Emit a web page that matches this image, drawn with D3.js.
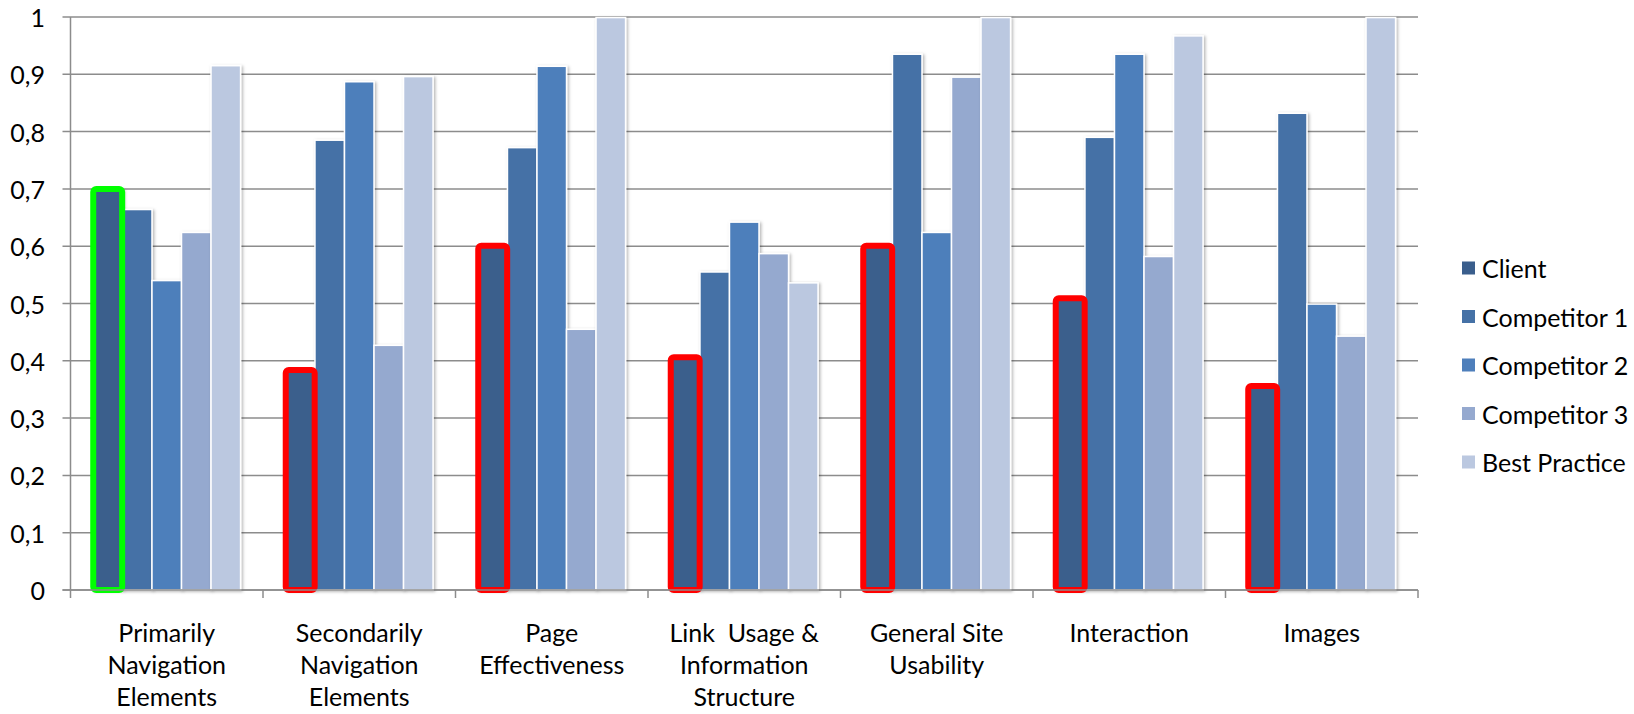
<!DOCTYPE html>
<html>
<head>
<meta charset="utf-8">
<script src="https://cdn.jsdelivr.net/npm/d3@7"></script>
<style>
  html, body { margin: 0; padding: 0; background: #ffffff; }
  svg { display: block; }
  text { font-family: Lato, "Open Sans", sans-serif; fill: #000; }
</style>
</head>
<body>
<svg id="chart" width="1634" height="714"></svg>
<script>
// Usability scores per area, client vs. competitors and best practice
const categories = [
  ["Primarily", "Navigation", "Elements"],
  ["Secondarily", "Navigation", "Elements"],
  ["Page", "Effectiveness"],
  ["Link  Usage &", "Information", "Structure"],
  ["General Site", "Usability"],
  ["Interaction"],
  ["Images"]
];
const seriesNames = ["Client", "Competitor 1", "Competitor 2", "Competitor 3", "Best Practice"];
const client      = [0.700, 0.384, 0.601, 0.406, 0.601, 0.509, 0.356];
const competitor1 = [0.664, 0.785, 0.772, 0.555, 0.935, 0.790, 0.832];
const competitor2 = [0.540, 0.887, 0.914, 0.642, 0.624, 0.935, 0.499];
const competitor3 = [0.624, 0.427, 0.455, 0.587, 0.895, 0.582, 0.443];
const bestPractice= [0.915, 0.896, 0.999, 0.536, 0.999, 0.967, 0.999];
// outline around the client bar: green = ahead, red = behind
const clientHighlight = ["#00ff00", "#ff0000", "#ff0000", "#ff0000", "#ff0000", "#ff0000", "#ff0000"];
const yTickValues = [0, 0.1, 0.2, 0.3, 0.4, 0.5, 0.6, 0.7, 0.8, 0.9, 1];
const yTickLabels = ["0", "0,1", "0,2", "0,3", "0,4", "0,5", "0,6", "0,7", "0,8", "0,9", "1"];
const seriesColors = ["#3a5e8c", "#4571a6", "#4e7fbb", "#95a9cf", "#bbc8e0"];

const seriesValues = [client, competitor1, competitor2, competitor3, bestPractice];

const svg = d3.select("#chart");
const plot = { left: 70.5, right: 1418, top: 17, bottom: 590 };
const fontSize = "25px";

const x0 = d3.scaleBand()
  .domain(d3.range(categories.length))
  .range([plot.left, plot.right])
  .paddingInner(0).paddingOuter(0);

const x1 = d3.scaleBand()
  .domain(seriesNames)
  .range([0, x0.bandwidth()])
  .paddingInner(0).paddingOuter(0.76);

const y = d3.scaleLinear().domain([0, 1]).range([plot.bottom, plot.top]);

// soft shadow under the bars
const defs = svg.append("defs");
const f = defs.append("filter").attr("id", "barShadow")
  .attr("x", "-30%").attr("y", "-5%").attr("width", "160%").attr("height", "110%");
f.append("feDropShadow").attr("dx", 1.5).attr("dy", 1).attr("stdDeviation", 1.6)
  .attr("flood-color", "#000").attr("flood-opacity", 0.3);

// horizontal gridlines with outside ticks
svg.append("g").attr("class", "grid")
  .selectAll("line").data(yTickValues).join("line")
  .attr("x1", plot.left - 8).attr("x2", plot.right)
  .attr("y1", d => y(d)).attr("y2", d => y(d))
  .attr("stroke", "#8c8c8c").attr("stroke-width", 1.5);

// y axis labels
svg.append("g").attr("class", "y-labels")
  .selectAll("text").data(yTickValues).join("text")
  .attr("x", 45).attr("y", d => y(d))
  .attr("text-anchor", "end").attr("dominant-baseline", "central")
  .style("font-size", fontSize)
  .text((d, i) => yTickLabels[i]);

// y axis line
svg.append("line")
  .attr("x1", plot.left).attr("x2", plot.left)
  .attr("y1", plot.top).attr("y2", plot.bottom + 8)
  .attr("stroke", "#8c8c8c").attr("stroke-width", 1.5);

// category boundary ticks below the baseline
svg.append("g").selectAll("line").data(d3.range(1, categories.length + 1)).join("line")
  .attr("x1", d => plot.left + d * x0.step()).attr("x2", d => plot.left + d * x0.step())
  .attr("y1", plot.bottom).attr("y2", plot.bottom + 8)
  .attr("stroke", "#8c8c8c").attr("stroke-width", 1.5);

// bars
const groups = svg.append("g").attr("class", "bars")
  .selectAll("g").data(categories).join("g")
  .attr("transform", (d, i) => `translate(${x0(i)},0)`);

groups.selectAll("rect.bar")
  .data((d, i) => seriesNames.map((s, k) => ({ s, k, v: seriesValues[k][i] })))
  .join("rect").attr("class", "bar")
  .attr("x", d => x1(d.s))
  .attr("width", x1.bandwidth())
  .attr("y", d => y(d.v))
  .attr("height", d => y(0) - y(d.v))
  .attr("fill", d => seriesColors[d.k])
  .attr("stroke", "#ffffff").attr("stroke-width", 1.5)
  .attr("filter", "url(#barShadow)");

// highlight frame around each client bar
groups.append("rect")
  .attr("x", x1("Client") + 0.3)
  .attr("width", x1.bandwidth() - 0.6)
  .attr("y", (d, i) => y(client[i]))
  .attr("height", (d, i) => y(0) - y(client[i]))
  .attr("rx", 3)
  .attr("fill", "none")
  .attr("stroke", (d, i) => clientHighlight[i])
  .attr("stroke-width", 6);

// baseline
svg.append("line")
  .attr("x1", plot.left - 8).attr("x2", plot.right)
  .attr("y1", plot.bottom).attr("y2", plot.bottom)
  .attr("stroke", "#8c8c8c").attr("stroke-width", 1.5);

// category labels
const labels = svg.append("g").attr("class", "x-labels")
  .selectAll("text").data(categories).join("text")
  .attr("text-anchor", "middle")
  .attr("xml:space", "preserve")
  .style("font-size", fontSize)
  .style("white-space", "pre");
labels.selectAll("tspan").data((d, i) => d.map(t => ({ t, i }))).join("tspan")
  .attr("x", d => x0(d.i) + x0.bandwidth() / 2)
  .attr("y", (d, j) => 642 + j * 32)
  .text(d => d.t);

// legend
const legend = svg.append("g").attr("class", "legend")
  .selectAll("g").data(seriesNames).join("g")
  .attr("transform", (d, i) => `translate(1462, ${268 + i * 48.5})`);
legend.append("rect")
  .attr("x", 0).attr("y", -6.5).attr("width", 13).attr("height", 13)
  .attr("fill", (d, i) => seriesColors[i]);
legend.append("text")
  .attr("x", 20).attr("y", 0)
  .attr("dominant-baseline", "central")
  .style("font-size", fontSize)
  .text(d => d);
</script>
</body>
</html>
